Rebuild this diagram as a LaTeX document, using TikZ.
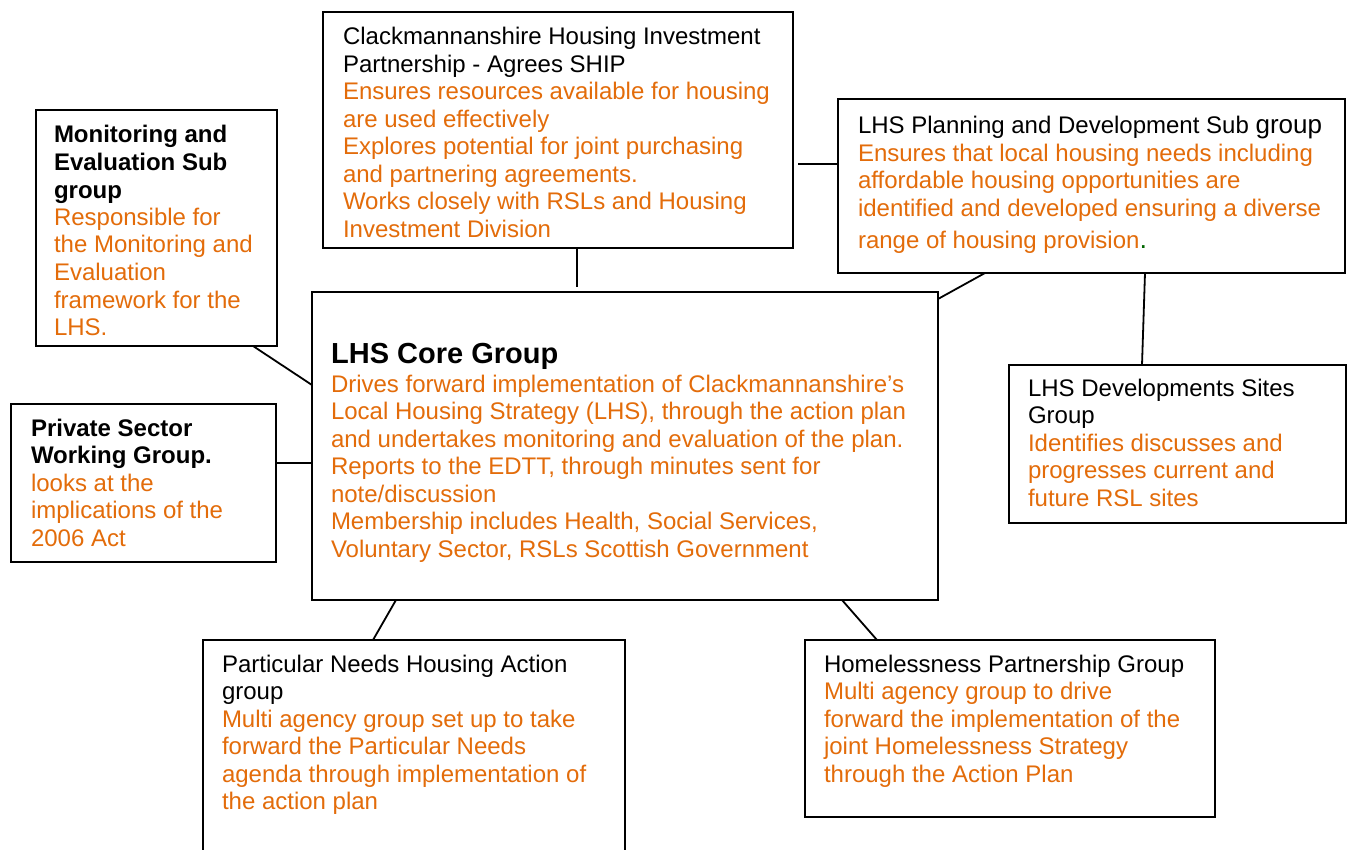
\documentclass[tikz,border=0pt]{standalone}
\usepackage{fontspec}
\setmainfont{Liberation Sans}
\definecolor{orng}{HTML}{E36C0A}
\definecolor{dkgreen}{HTML}{006600}
\tikzset{
  box/.style={draw, line width=1.8pt, anchor=north west, inner sep=0pt, outer sep=0pt},
  txt/.style={anchor=north west, inner sep=0pt, outer sep=0pt, align=left,
              font=\fontsize{24}{27.5}\selectfont},
  link/.style={line width=1.8pt},
}
\begin{document}
\begin{tikzpicture}[x=1pt,y=-1pt]
\clip (0,0) rectangle (1347,850);
\fill[white] (0,0) rectangle (1347,850);

% group boxes
\node[box, minimum width=470pt, minimum height=236pt] (ship) at (323,12) {};
\node[box, minimum width=241pt, minimum height=236pt] (mon)  at (36,110) {};
\node[box, minimum width=265pt, minimum height=158pt] (priv) at (11,404) {};
\node[box, minimum width=626pt, minimum height=308pt] (core) at (312,292) {};
\node[box, minimum width=507pt, minimum height=174pt] (plan) at (838,99) {};
\node[box, minimum width=337pt, minimum height=158pt] (dev)  at (1009,365) {};
\node[box, minimum width=422pt, minimum height=240pt] (part) at (203,640) {};
\node[box, minimum width=410pt, minimum height=177pt] (home) at (805,640) {};

% box texts
\node[txt] (shiptxt) at (343,25.75) {\strut Clackmannanshire Housing Investment\\
  Partnership - Agrees SHIP\\
  \color{orng}Ensures resources available for housing\\
  \color{orng}are used effectively\\
  \color{orng}Explores potential for joint purchasing\\
  \color{orng}and partnering agreements.\\
  \color{orng}Works closely with RSLs and Housing\\
  \color{orng}Investment Division};

\node[txt] (montxt) at (54,123.75) {\strut\bfseries Monitoring and\\
  \bfseries Evaluation Sub\\
  \bfseries group\\
  \color{orng}Responsible for\\
  \color{orng}the Monitoring and\\
  \color{orng}Evaluation\\
  \color{orng}framework for the\\
  \color{orng}LHS.};

\node[txt] (privtxt) at (31,416.75) {\strut\bfseries Private Sector\\
  \bfseries Working Group.\\
  \color{orng}looks at the\\
  \color{orng}implications of the\\
  \color{orng}2006 Act};

\node[anchor=base west, inner sep=0pt, font=\fontsize{29}{33}\selectfont\bfseries] (coretitle) at (331,363) {LHS Core Group};
\node[txt, text=orng] (coretxt) at (331,372.75) {\strut Drives forward implementation of Clackmannanshire’s\\
  Local Housing Strategy (LHS), through the action plan\\
  and undertakes monitoring and evaluation of the plan.\\
  Reports to the EDTT, through minutes sent for\\
  note/discussion\\
  Membership includes Health, Social Services,\\
  Voluntary Sector, RSLs Scottish Government};

\node[txt] (plantxt) at (858,114.75) {\strut LHS Planning and Development Sub {\fontsize{26}{27.5}\selectfont group}\\
  \color{orng}Ensures that local housing needs including\\
  \color{orng}affordable housing opportunities are\\
  \color{orng}identified and developed ensuring a diverse\\[4.5pt]
  \color{orng}range of housing provision{\color{dkgreen}\fontsize{27}{31}\selectfont .}};

\node[txt] (devtxt) at (1028,376.75) {\strut LHS Developments Sites\\
  Group\\
  \color{orng}Identifies discusses and\\
  \color{orng}progresses current and\\
  \color{orng}future RSL sites};

\node[txt] (parttxt) at (222,652.75) {\strut Particular Needs Housing Action\\
  group\\
  \color{orng}Multi agency group set up to take\\
  \color{orng}forward the Particular Needs\\
  \color{orng}agenda through implementation of\\
  \color{orng}the action plan};

\node[txt] (hometxt) at (824,652.75) {\strut Homelessness Partnership Group\\
  \color{orng}Multi agency group to drive\\
  \color{orng}forward the implementation of the\\
  \color{orng}joint Homelessness Strategy\\
  \color{orng}through the Action Plan};

% connectors
\draw[link, shorten >=5pt] ([xshift=19pt]ship.south) -- ([xshift=19pt]ship.south |- core.north);
\draw[link, shorten <=5pt] ([yshift=-34pt]ship.east) -- ([yshift=-34pt]ship.east -| plan.west);
\draw[link] ([xshift=-24pt]mon.south east) -- ([yshift=-93pt]core.north west);
\draw[link] ([yshift=20pt]priv.east) -- ([yshift=20pt]priv.east -| core.west);
\draw[link] ([xshift=147pt]plan.south west) -- ([yshift=-7pt]core.north east);
\draw[link] ([xshift=307pt]plan.south west) -- ([xshift=133pt]dev.north west);
\draw[link] ([xshift=84pt]core.south west) -- ([xshift=170pt]part.north west);
\draw[link] ([xshift=-96pt]core.south east) -- ([xshift=72pt]home.north west);
\end{tikzpicture}
\end{document}
